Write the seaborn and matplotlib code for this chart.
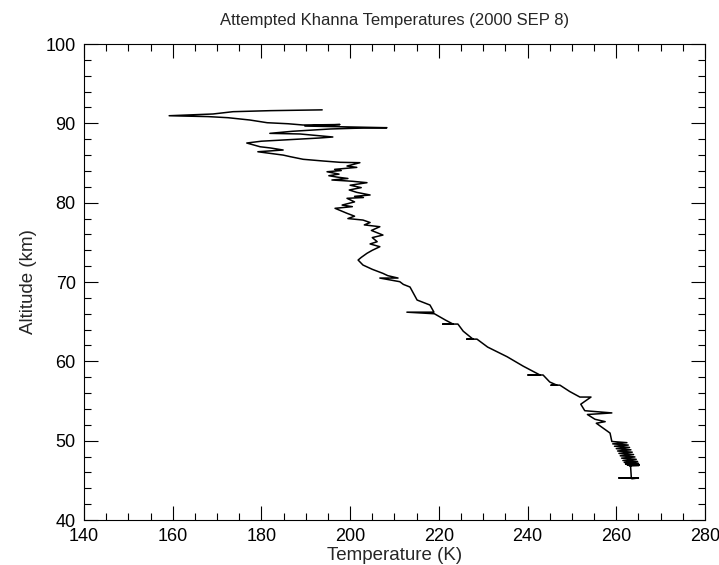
import numpy as np
import pandas as pd
import matplotlib
matplotlib.use("Agg")
import matplotlib.pyplot as plt
import seaborn as sns
from matplotlib.ticker import MultipleLocator

# temperature profile, top of the profile first
temperature = [193.7, 182.0, 173.6, 171.0, 169.1, 159.2, 168.0, 172.5, 177.4, 181.3,
               186.0, 189.4, 197.7, 189.8, 199.0, 208.3, 201.0, 195.5, 187.0, 181.9,
               186.0, 188.7, 196.1, 193.0, 188.7, 180.0, 176.7, 179.7, 182.0, 184.9,
               179.2, 181.5, 184.9, 186.5, 189.4, 194.0, 197.7, 202.2, 199.3, 201.5,
               196.5, 198.0, 194.8, 197.5, 195.2, 197.0, 199.5, 195.9, 200.5, 203.8,
               200.0, 202.5, 199.8, 201.5, 204.5, 201.0, 203.0, 199.3, 201.0, 198.2,
               200.5, 196.6, 199.3, 201.0, 199.5, 202.9, 204.5, 203.2, 206.7, 204.8,
               207.4, 205.0, 206.1, 204.5, 206.7, 205.0, 203.8, 202.5, 201.8, 202.9,
               205.0, 207.4, 208.5, 210.8, 206.7, 211.2, 212.0, 213.5, 215.1, 218.0,
               218.9, 212.8, 219.0, 221.5, 223.2, 220.9, 224.3, 225.5, 227.7, 226.3,
               228.6, 231.0, 235.4, 239.0, 242.8, 240.1, 243.5, 245.0, 246.6, 245.3,
               247.3, 249.5, 251.8, 254.3, 252.0, 252.9, 259.0, 253.5, 255.2, 257.5,
               255.5, 258.6, 259.0,
               262.4, 259.2, 262.7, 259.6, 263.0, 260.0, 263.3, 260.3, 263.6, 260.6,
               263.9, 260.9, 264.2, 261.2, 264.5, 261.5, 264.8, 261.8, 265.0, 262.1,
               265.2, 262.5, 265.1, 262.9, 264.6, 263.2,
               263.4, 260.6, 265.0, 263.5]
altitude = [91.70, 91.60, 91.47, 91.30, 91.18, 90.96, 90.85, 90.71, 90.42, 90.08,
            89.95, 89.79, 89.85, 89.66, 89.55, 89.45, 89.38, 89.29, 89.00, 88.74,
            88.70, 88.66, 88.28, 88.15, 88.02, 87.75, 87.52, 87.05, 86.90, 86.64,
            86.42, 86.25, 86.00, 85.80, 85.47, 85.25, 85.09, 85.04, 84.62, 84.45,
            84.20, 84.05, 83.90, 83.60, 83.40, 83.23, 83.05, 82.86, 82.70, 82.52,
            82.20, 81.90, 81.60, 81.30, 80.97, 80.80, 80.65, 80.55, 80.10, 79.70,
            79.50, 79.29, 78.66, 78.30, 78.00, 77.81, 77.50, 77.20, 76.97, 76.50,
            75.92, 75.60, 75.08, 74.80, 74.45, 74.00, 73.62, 73.10, 72.77, 72.14,
            71.60, 71.09, 70.80, 70.50, 70.50, 70.04, 69.70, 69.37, 67.73, 67.10,
            66.20, 66.20, 66.00, 65.20, 64.70, 64.70, 64.70, 63.80, 62.80, 62.80,
            62.80, 61.80, 60.58, 59.40, 58.28, 58.28, 58.28, 57.40, 57.00, 57.00,
            57.00, 56.20, 55.50, 55.50, 54.60, 53.78, 53.50, 53.30, 52.70, 52.40,
            52.20, 50.96, 49.90,
            49.75, 49.60, 49.45, 49.30, 49.15, 49.00, 48.85, 48.70, 48.55, 48.40,
            48.25, 48.10, 47.95, 47.80, 47.65, 47.50, 47.38, 47.26, 47.15, 47.05,
            46.98, 46.92, 46.88, 46.86, 46.90, 47.00,
            45.30, 45.30, 45.30, 45.20]

df = pd.DataFrame({"Temperature": temperature, "Altitude": altitude})

sns.set_style("ticks")
plt.rcParams["font.family"] = ["Liberation Sans", "DejaVu Sans"]

fig = plt.figure(figsize=(7.19, 5.65), dpi=100)
ax = fig.add_axes([0.1168, 0.0796, 0.8637, 0.8425])

sns.lineplot(data=df, x="Temperature", y="Altitude", sort=False, estimator=None,
             color="black", linewidth=1.1, ax=ax)

ax.set_xlim(140, 280)
ax.set_ylim(40, 100)
ax.xaxis.set_major_locator(MultipleLocator(20))
ax.xaxis.set_minor_locator(MultipleLocator(5))
ax.yaxis.set_major_locator(MultipleLocator(10))
ax.yaxis.set_minor_locator(MultipleLocator(2))
ax.tick_params(which="both", direction="in", top=True, right=True, width=0.8,
               labelsize=13, colors="black")
ax.tick_params(axis="x", which="major", pad=6)
ax.tick_params(axis="y", which="major", pad=6)
ax.tick_params(which="major", length=10)
ax.tick_params(which="minor", length=5)
for s in ax.spines.values():
    s.set_linewidth(0.8)
    s.set_color("black")

ax.set_xlabel("Temperature (K)", fontsize=13.5, labelpad=1)
ax.set_ylabel("Altitude (km)", fontsize=13.5, labelpad=6)
ax.set_title("Attempted Khanna Temperatures (2000 SEP 8)", fontsize=12, pad=14)

fig.savefig("out.png", dpi=100)
